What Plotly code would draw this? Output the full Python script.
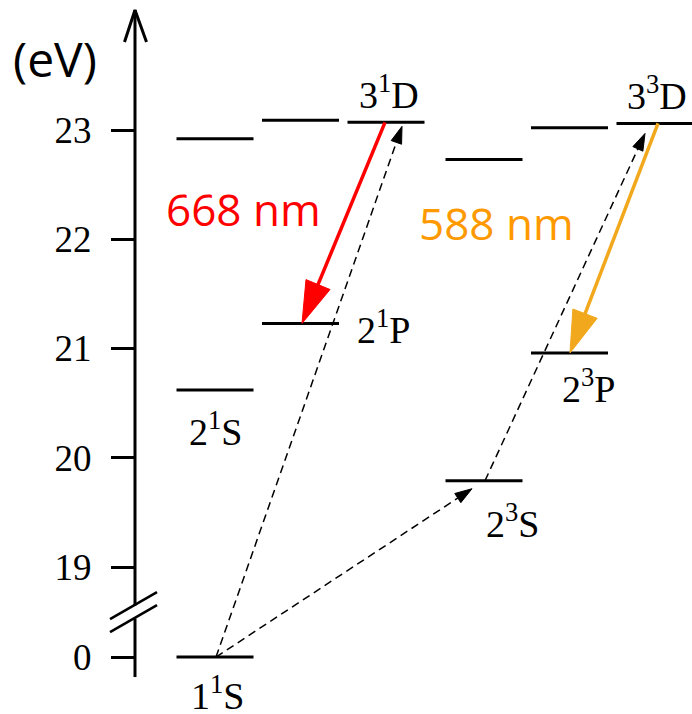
import math
import plotly.graph_objects as go

# ---------------- data ----------------
level_names = ["1¹S", "2¹S", "3¹S", "2¹P", "3¹P", "3¹D", "2³S", "3³S", "2³P", "3³P", "3³D"]
level_labels = ["1<sup>1</sup>S", "2<sup>1</sup>S", "", "2<sup>1</sup>P", "", "3<sup>1</sup>D",
                "2<sup>3</sup>S", "", "2<sup>3</sup>P", "", "3<sup>3</sup>D"]
level_energy = [0.0, 20.62, 22.92, 21.23, 23.09, 23.07, 19.79, 22.73, 20.96, 23.02, 23.06]
level_column = [0, 0, 0, 1, 1, 2, 3, 3, 4, 4, 5]

tick_values = [0, 19, 20, 21, 22, 23]
tick_labels = ["0", "19", "20", "21", "22", "23"]

trans_from = ["1¹S", "1¹S", "2³S", "3¹D", "3³D"]
trans_to = ["3¹D", "2³S", "3³D", "2¹P", "2³P"]
trans_kind = ["excite", "excite", "excite", "emit", "emit"]
trans_label = ["", "", "", "668 nm", "588 nm"]
trans_color = ["black", "black", "black", "#FF0000", "#F2A81D"]
label_color = ["black", "black", "black", "#FF0000", "#FF9900"]

# ---------------- layout constants ----------------
W, H = 692, 714
Y_RANGE = [17.655, 24.19]
PX = H / (Y_RANGE[1] - Y_RANGE[0])          # pixels per eV on screen
LOW_BASE = 19 - 90 / PX                      # where 0 eV sits below the break
AXIS_X = 135
COL_FIRST, COL_STEP, GROUP_GAP = 215, 85.5, 12.5
HALF_W = 38.5


def disp(e):
    return e if e >= 18.9 else LOW_BASE + e


def col_x(c):
    return COL_FIRST + c * COL_STEP + (GROUP_GAP if c >= 3 else 0)


def pix_to_y(p):
    return Y_RANGE[1] - p / PX


# transition endpoints offsets in pixels (layout)
start_dx = [1, 1, 1, -1, 3]
end_dx = [16, -12, -10, 1.5, 0.5]
end_dy = [4, 8, 10, 0, 0]
label_off = [(0, 0), (0, 0), (0, 0), (-100, 14), (-118, 15)]

# label offsets (pixels, relative to level centre)
label_shift = {"1¹S": (2, -36), "2¹S": (0, -39), "2¹P": (83, -4), "3¹D": (3, 30),
               "2³S": (28, -40), "2³P": (19, -33), "3³D": (2, 30)}

idx = {n: i for i, n in enumerate(level_names)}

fig = go.Figure()

# ---- energy levels ----
lx, ly = [], []
for e, c in zip(level_energy, level_column):
    cx = col_x(c)
    lx += [cx - HALF_W, cx + HALF_W, None]
    ly += [disp(e), disp(e), None]
fig.add_trace(go.Scatter(x=lx, y=ly, mode="lines", line=dict(color="black", width=3),
                         hoverinfo="skip", showlegend=False))

# ---- transitions ----
annotations = []
for k in range(len(trans_from)):
    a, b = idx[trans_from[k]], idx[trans_to[k]]
    x0 = col_x(level_column[a]) + start_dx[k]
    y0p = (Y_RANGE[1] - disp(level_energy[a])) * PX
    x1 = col_x(level_column[b]) + end_dx[k]
    y1p = (Y_RANGE[1] - disp(level_energy[b])) * PX + end_dy[k]
    dxp, dyp = x1 - x0, y1p - y0p
    L = math.hypot(dxp, dyp)
    ux, uy = dxp / L, dyp / L
    if trans_kind[k] == "emit":
        hl, hw, lw, dash = 42, 13, 3.5, "solid"
    else:
        hl, hw, lw, dash = 17, 5.5, 1.5, "8px,5px"
    bx, by = x1 - ux * hl, y1p - uy * hl
    fig.add_trace(go.Scatter(x=[x0, bx + ux * 2], y=[pix_to_y(y0p), pix_to_y(by + uy * 2)],
                             mode="lines", line=dict(color=trans_color[k], width=lw, dash=dash),
                             hoverinfo="skip", showlegend=False))
    px_, py_ = -uy, ux
    hx = [x1, bx + px_ * hw, bx - px_ * hw, x1]
    hy = [y1p, by + py_ * hw, by - py_ * hw, y1p]
    fig.add_trace(go.Scatter(x=hx, y=[pix_to_y(v) for v in hy], mode="lines", fill="toself",
                             fillcolor=trans_color[k], line=dict(color=trans_color[k], width=1),
                             hoverinfo="skip", showlegend=False))
    if trans_label[k]:
        mx, my = (x0 + x1) / 2 + label_off[k][0], (y0p + y1p) / 2 - label_off[k][1]
        annotations.append(dict(x=mx, y=pix_to_y(my), xref="x", yref="y", text=trans_label[k],
                                showarrow=False,
                                font=dict(family="Open Sans", size=44, color=label_color[k])))

# ---- level labels ----
for n, lab in zip(level_names, level_labels):
    if not lab:
        continue
    i = idx[n]
    sx, sy = label_shift[n]
    annotations.append(dict(x=col_x(level_column[i]), y=disp(level_energy[i]), xref="x", yref="y",
                            text=lab, showarrow=False, xshift=sx, yshift=sy,
                            font=dict(family="Liberation Serif", size=38, color="black")))

# ---- unit label ----
annotations.append(dict(x=55, y=pix_to_y(58), xref="x", yref="y", text="(eV)", showarrow=False,
                        font=dict(family="Open Sans", size=48, color="black")))

# ---- axis line with break and arrow ----
brk = (disp(0) + 19) / 2
gap = 6.5 / PX
ax_bottom = disp(0) - 20 / PX
ax_top = Y_RANGE[1] - 10 / PX
fig.add_trace(go.Scatter(x=[AXIS_X, AXIS_X, None, AXIS_X, AXIS_X],
                         y=[ax_bottom, brk - gap, None, brk + gap, ax_top],
                         mode="lines", line=dict(color="black", width=3),
                         hoverinfo="skip", showlegend=False))
fig.add_trace(go.Scatter(x=[AXIS_X - 10.5, AXIS_X, AXIS_X + 11.5],
                         y=[ax_top - 32 / PX, ax_top, ax_top - 32 / PX],
                         mode="lines", line=dict(color="black", width=3),
                         hoverinfo="skip", showlegend=False))
bcx = AXIS_X - 1.5
for s in (-1, 1):
    fig.add_trace(go.Scatter(x=[bcx - 23.5, bcx + 23.5],
                             y=[brk + s * gap - 13.5 / PX, brk + s * gap + 13.5 / PX],
                             mode="lines", line=dict(color="black", width=2.5),
                             hoverinfo="skip", showlegend=False))

fig.update_layout(
    width=W, height=H, autosize=False,
    margin=dict(l=0, r=0, t=0, b=0),
    paper_bgcolor="white", plot_bgcolor="white",
    showlegend=False,
    xaxis=dict(range=[0, W], visible=False, fixedrange=True),
    yaxis=dict(range=Y_RANGE, anchor="free", position=AXIS_X / W, showline=False,
               showgrid=False, zeroline=False, ticks="outside", ticklen=24, tickwidth=3,
               tickcolor="black", tickvals=[disp(v) for v in tick_values], ticktext=tick_labels,
               tickfont=dict(family="Liberation Serif", size=37, color="black"),
               ticklabelstandoff=12, fixedrange=True),
    annotations=annotations,
)

fig.write_html("out.html", config={"displayModeBar": False},
               post_script="document.body.style.margin='0';document.body.style.overflow='hidden';")
